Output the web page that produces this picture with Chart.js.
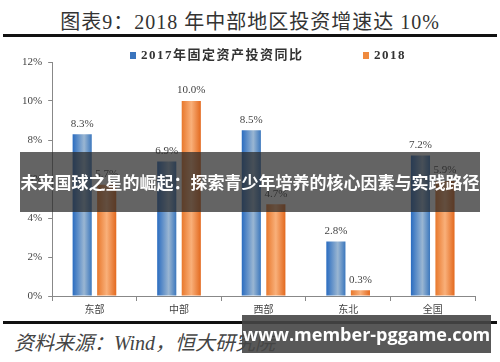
<!DOCTYPE html>
<html>
<head>
<meta charset="utf-8">
<script src="https://cdn.jsdelivr.net/npm/chart.js@4.4.1/dist/chart.umd.min.js"></script>
<style>
  body { margin: 0; background: #fff; }
  #wrap { position: relative; width: 500px; height: 362px; overflow: hidden; background: #fff; }
  #title { position: absolute; left: 0; top: 6px; width: 500px; text-align: center;
           font-family: "Liberation Serif", "Noto Sans CJK SC", serif; font-size: 20px; color: #333; letter-spacing: 1px; }
  .rule { position: absolute; left: 3px; width: 494px; height: 3px; background: #111; }
  #source { position: absolute; left: 14px; top: 327px; font-family: "Liberation Serif", "Noto Sans CJK SC", serif;
            font-style: italic; font-size: 20px; color: #444; }
  #banner { position: absolute; left: 20px; top: 152px; width: 460px; height: 60px; background: rgba(40,40,40,0.72);
            color: #fff; font-family: "Noto Sans CJK SC", sans-serif; font-weight: bold; font-size: 17px;
            line-height: 60px; text-align: center; white-space: nowrap; }
  #mark { position: absolute; left: 242px; top: 315px; width: 249px; height: 38px; background: rgba(70,70,70,0.9);
          color: #fff; font-family: "Open Sans", "DejaVu Sans", sans-serif; font-weight: bold; font-size: 18px;
          line-height: 38px; text-align: center; white-space: nowrap; }
  #chartBox { position: absolute; left: 0; top: 40px; width: 500px; height: 277px; }
  .leg { position: absolute; top: 46px; font-family: "Liberation Serif", "Noto Sans CJK SC", serif; font-weight: bold;
         font-size: 13px; letter-spacing: 1.5px; color: #333; white-space: nowrap; line-height: 18px; }
  .leg i { display: inline-block; width: 6px; height: 7px; margin-right: 5px; vertical-align: 0; }
</style>
</head>
<body>
<div id="wrap">
  <div id="title">图表9：2018 年中部地区投资增速达 10%</div>
  <div class="rule" style="top:34px"></div>
  <div id="chartBox"><canvas id="myChart"></canvas></div>
  <div id="legend"></div>
  <div class="rule" style="top:321px"></div>
  <div id="source">资料来源：Wind，恒大研究院</div>
  <div id="banner">未来国球之星的崛起：探索青少年培养的核心因素与实践路径</div>
  <div id="mark">www.member-pggame.com</div>
</div>
<script>
const regions = ['东部', '中部', '西部', '东北', '全国'];
const seriesNames = ['2017年固定资产投资同比', '2018'];
const growth2017 = [8.3, 6.9, 8.5, 2.8, 7.2];
const growth2018 = [5.7, 10.0, 4.7, 0.3, 5.9];
const yTicks = [0, 2, 4, 6, 8, 10, 12];

const blueStops = [[0, '#2a6cc0'], [0.6, '#9ab6d2'], [1, '#3b77bd']];
const orangeStops = [[0, '#e8782c'], [0.5, '#f9b07a'], [1, '#e3691e']];
const legendColors = ['#3a74bd', '#ef8a3e'];
const legendLeft = [130, 363];

// legend, spaced like the original
const legendBox = document.getElementById('legend');
seriesNames.forEach((name, i) => {
    const d = document.createElement('div');
    d.className = 'leg';
    d.style.left = legendLeft[i] + 'px';
    d.innerHTML = '<i style="background:' + legendColors[i] + '"></i>' + name;
    legendBox.appendChild(d);
});

// horizontal gradient for each bar
const barGradient = {
    id: 'barGradient',
    beforeDatasetsDraw(chart) {
        const c = chart.ctx;
        chart.data.datasets.forEach((ds, i) => {
            const stops = i === 0 ? blueStops : orangeStops;
            chart.getDatasetMeta(i).data.forEach(bar => {
                const g = c.createLinearGradient(bar.x - bar.width / 2, 0, bar.x + bar.width / 2, 0);
                stops.forEach(s => g.addColorStop(s[0], s[1]));
                bar.options = Object.assign({}, bar.options, { backgroundColor: g });
            });
        });
    }
};

// value labels above bars
const valueLabels = {
    id: 'valueLabels',
    afterDatasetsDraw(chart) {
        const c = chart.ctx;
        c.save();
        c.font = '11px "Liberation Serif", serif';
        c.fillStyle = '#444';
        c.textAlign = 'center';
        c.textBaseline = 'bottom';
        chart.data.datasets.forEach((ds, i) => {
            chart.getDatasetMeta(i).data.forEach((bar, j) => {
                c.fillText(ds.data[j].toFixed(1) + '%', bar.x, bar.y - 5);
            });
        });
        c.restore();
    }
};

const ctx = document.getElementById('myChart').getContext('2d');
const myChart = new Chart(ctx, {
    type: 'bar',
    data: {
        labels: regions,
        datasets: [{
            label: seriesNames[0],
            data: growth2017,
            backgroundColor: legendColors[0]
        }, {
            label: seriesNames[1],
            data: growth2018,
            backgroundColor: legendColors[1]
        }]
    },
    options: {
        responsive: true,
        maintainAspectRatio: false,
        animation: false,
        categoryPercentage: 0.58,
        barPercentage: 0.78,
        layout: { padding: { left: 16, right: 25, top: 22, bottom: 0 } },
        plugins: {
            tooltip: { enabled: false },
            legend: { display: false }
        },
        scales: {
            x: {
                grid: { drawOnChartArea: false, tickLength: 5, color: '#888', offset: true },
                border: { color: '#888', width: 1 },
                ticks: { color: '#444', font: { family: '"Noto Sans CJK SC", serif', size: 10 }, padding: 2 }
            },
            y: {
                min: 0,
                max: 12,
                afterBuildTicks(axis) { axis.ticks = yTicks.map(v => ({ value: v })); },
                grid: { drawOnChartArea: false, tickLength: 4, color: '#888' },
                border: { color: '#888', width: 1 },
                ticks: {
                    color: '#444',
                    padding: 6,
                    font: { family: '"Liberation Serif", serif', size: 11 },
                    callback: v => v + '%'
                }
            }
        }
    },
    plugins: [barGradient, valueLabels]
});
</script>
</body>
</html>
